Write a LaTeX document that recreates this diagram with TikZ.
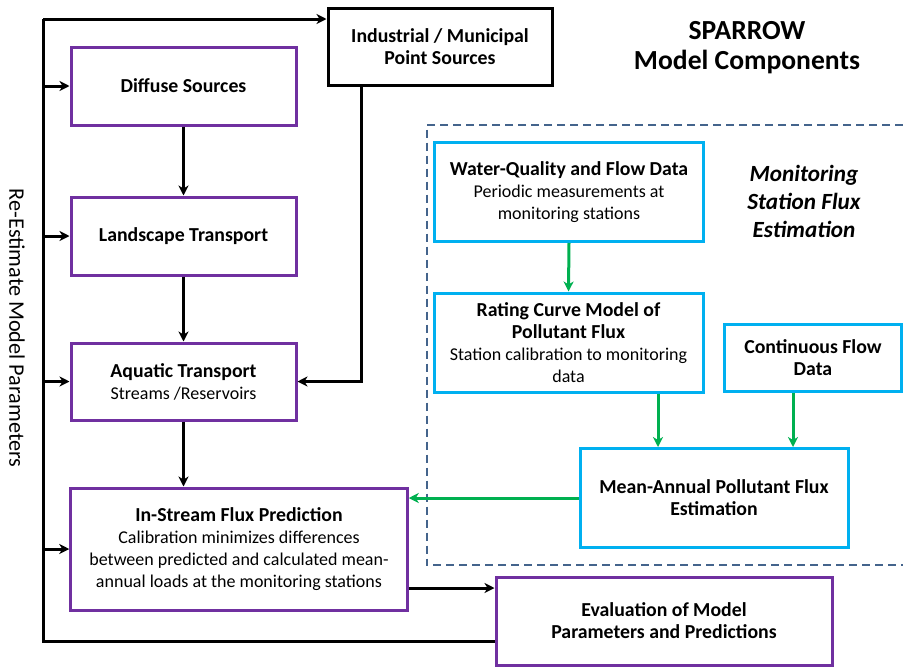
\documentclass[tikz,border=0pt]{standalone}
\usepackage{fontspec}
\setmainfont{Carlito}
\usetikzlibrary{arrows.meta,calc}
\definecolor{cpurple}{RGB}{112,48,160}
\definecolor{ccyan}{RGB}{0,176,240}
\definecolor{cgreen}{RGB}{0,176,80}
\definecolor{cdash}{RGB}{68,100,140}
\newcommand{\hdtxt}[1]{{\fontsize{19.8}{22}\selectfont\bfseries #1}}
\tikzset{
  pbox/.style={draw=cpurple,line width=3pt,fill=white,align=center,inner sep=2pt,font=\fontsize{18}{22}\selectfont},
  cbox/.style={draw=ccyan,line width=3pt,fill=white,align=center,inner sep=2pt,font=\fontsize{18}{22}\selectfont},
  kbox/.style={draw=black,line width=3pt,fill=white,align=center,inner sep=2pt,font=\fontsize{18}{22}\selectfont},
  blk/.style={draw=black,line width=3pt},
  barr/.style={blk,-{Stealth[length=10pt,width=10pt,inset=3pt]}},
  garr/.style={draw=cgreen,line width=3pt,-{Stealth[length=10pt,width=10pt,inset=3pt]}},
  dashbox/.style={draw=cdash,line width=2pt,dash pattern=on 8pt off 5pt}
}
\begin{document}
\begin{tikzpicture}[x=1pt,y=-1pt]
\useasboundingbox (0,0) rectangle (903,667);
% dashed group
\draw[dashbox] (903,125) -- (426.5,125) -- (426.5,565) -- (903,565);
% boxes
\node[kbox,minimum width=224pt,minimum height=77pt] (ind) at (440,46.5) {\hdtxt{Industrial / Municipal}\\\hdtxt{Point Sources}};
\node[pbox,minimum width=225pt,minimum height=78pt] (dif) at (183.5,86) {\hdtxt{Diffuse Sources}};
\node[pbox,minimum width=225pt,minimum height=78pt] (lan) at (183.5,236) {\hdtxt{Landscape Transport}};
\node[pbox,minimum width=225pt,minimum height=77pt] (aqu) at (183.5,381.5) {\hdtxt{Aquatic Transport}\\Streams /Reservoirs};
\node[pbox,minimum width=336.5pt,minimum height=122pt] (ins) at (239,549) {\hdtxt{In-Stream Flux Prediction}\\Calibration minimizes differences\\between predicted and calculated mean-\\annual loads at the monitoring stations};
\node[pbox,minimum width=336pt,minimum height=88pt] (eva) at (664,621) {\hdtxt{Evaluation of Model}\\\hdtxt{Parameters and Predictions}};
\node[cbox,minimum width=269pt,minimum height=99pt] (wq) at (569,192) {\hdtxt{Water-Quality and Flow Data}\\Periodic measurements at\\monitoring stations};
\node[cbox,minimum width=269pt,minimum height=99pt] (rc) at (568.5,342.5) {\hdtxt{Rating Curve Model of}\\\hdtxt{Pollutant Flux}\\Station calibration to monitoring\\data};
\node[cbox,minimum width=177pt,minimum height=67pt] (cf) at (813,357.5) {\hdtxt{Continuous Flow}\\\hdtxt{Data}};
\node[cbox,minimum width=268pt,minimum height=99pt] (ma) at (714,498) {\hdtxt{Mean-Annual Pollutant Flux}\\\hdtxt{Estimation}};
% labels
\node[align=center,font=\fontsize{27.6}{30}\selectfont\bfseries] (title) at (747,48) {SPARROW\\Model Components};
\node[align=center,font=\fontsize{23.2}{28}\selectfont\bfseries\itshape] (mon) at (804,201) {Monitoring\\Station Flux\\Estimation};
\node[rotate=-90,font=\fontsize{22.2}{26}\selectfont] (re) at (17,328) {Re-Estimate Model Parameters};
% black connectors
\coordinate (tl) at (43,19);
\coordinate (bl) at (43,641);
\coordinate (ix) at (361,0);
\draw[blk] (bl -| eva.west) -- (bl) -- (tl);
\draw[barr] (tl) -- (tl -| ind.west);
\draw[barr] (bl |- dif.west) -- (dif.west);
\draw[barr] (bl |- lan.west) -- (lan.west);
\draw[barr] (bl |- aqu.west) -- (aqu.west);
\draw[barr] (bl |- ins.west) -- (ins.west);
\draw[barr] (ind.south -| ix) |- (aqu.east);
\draw[barr] (dif.south) -- (lan.north);
\draw[barr] (lan.south) -- (aqu.north);
\draw[barr] (aqu.south) -- (aqu.south |- ins.north);
\draw[barr] ([yshift=-39pt]ins.east) -- ([yshift=-39pt]ins.east -| eva.west);
% green connectors
\coordinate (g1) at (658,0);
\coordinate (g2) at (793,0);
\draw[garr] (ma.west) -- (ma.west -| ins.east);
\draw[garr] (wq.south) -- (rc.north);
\draw[garr] (rc.south -| g1) -- (ma.north -| g1);
\draw[garr] (cf.south -| g2) -- (ma.north -| g2);
\end{tikzpicture}
\end{document}
